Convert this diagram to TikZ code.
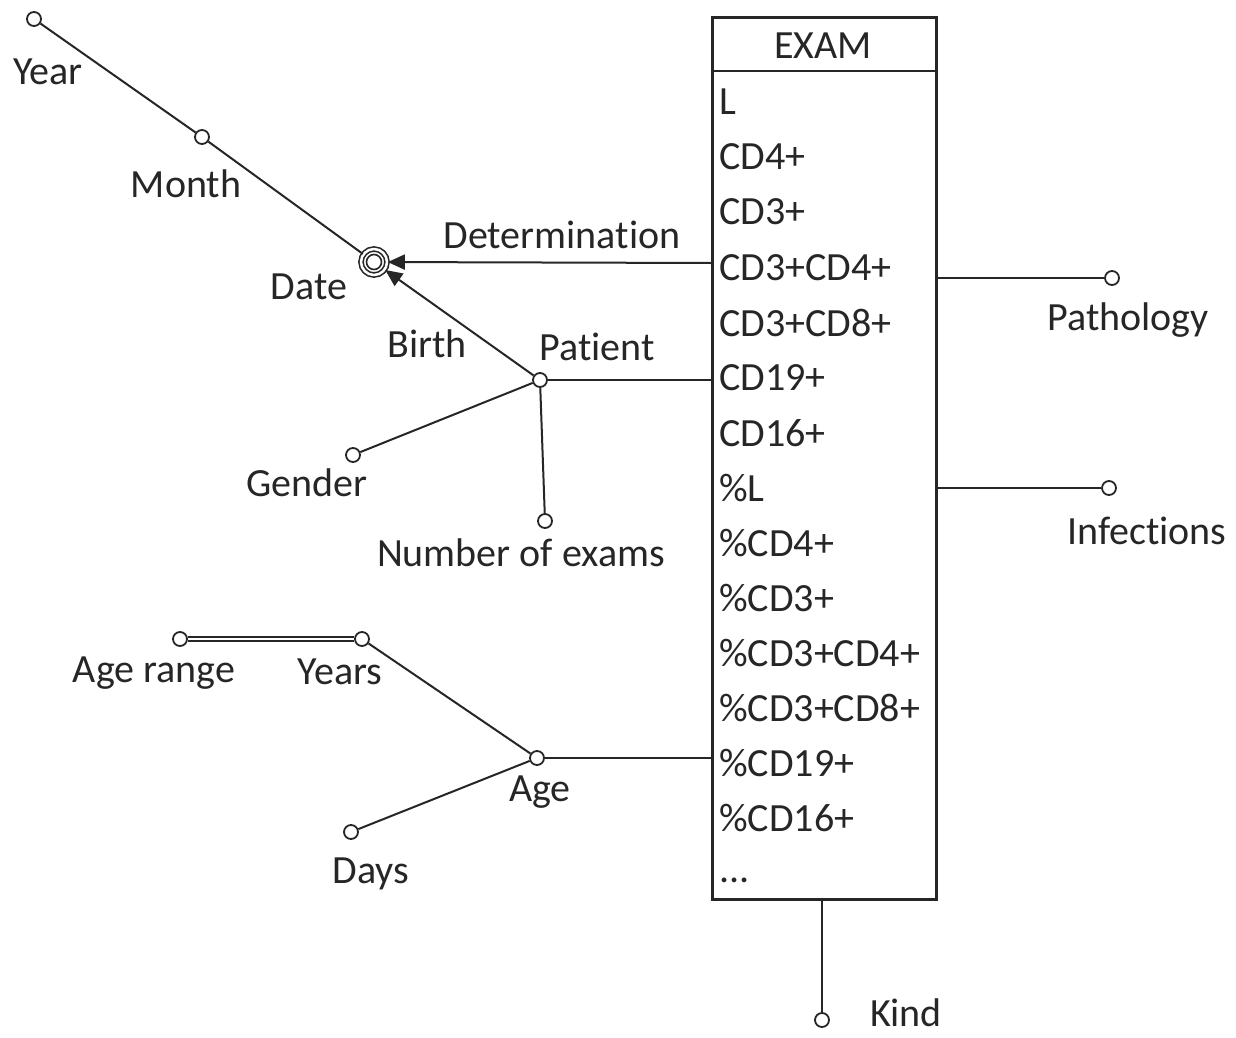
\documentclass[tikz,border=0pt]{standalone}
\usepackage{fontspec}
\setmainfont{Carlito}[Ligatures={NoCommon}]
\usetikzlibrary{arrows.meta}
\definecolor{ink}{HTML}{262626}
\begin{document}
\begin{tikzpicture}[x=1pt,y=-1pt,
  every node/.style={text=ink},
  dot/.style={circle,draw=ink,line width=1.8pt,fill=white,minimum size=14pt,inner sep=0pt},
  lbl/.style={font=\fontsize{40}{44}\selectfont,inner sep=0pt},
  row/.style={font=\fontsize{40}{44}\selectfont,inner sep=0pt,anchor=west},
  conn/.style={draw=ink,line width=2pt},
  arr/.style={conn,-{Triangle[length=17pt,width=15pt]}}]
\useasboundingbox (0,0) rectangle (1236,1038);
% EXAM box
\node[draw=ink,line width=2.6pt,rectangle,minimum width=224pt,minimum height=882pt,anchor=north west,inner sep=0pt] (exam) at (711,16) {};
\coordinate (hdr) at (0,71);
\draw[draw=ink,line width=2.4pt] (exam.west |- hdr) -- (exam.east |- hdr);
\node[lbl] (examt) at (823,46) {EXAM};
\node[row] (r1) at (719,102) {L};
\node[row] (r2) at (719,157) {CD4+};
\node[row] (r3) at (719,212) {CD3+};
\node[row] (r4) at (719,268) {CD3+CD4+};
\node[row] (r5) at (719,323) {CD3+CD8+};
\node[row] (r6) at (719,378) {CD19+};
\node[row] (r7) at (719,433) {CD16+};
\node[row] (r8) at (719,488) {\%L};
\node[row] (r9) at (719,543) {\%CD4+};
\node[row] (r10) at (719,598) {\%CD3+};
\node[row] (r11) at (719,653) {\%CD3+CD4+};
\node[row] (r12) at (719,708) {\%CD3+CD8+};
\node[row] (r13) at (719,763) {\%CD19+};
\node[row] (r14) at (719,818) {\%CD16+};
\node[row] (r15) at (719,880) {...};
% Right attributes
\node[dot] (path) at (1112,278) {};
\node[lbl] (pathl) at (1128,320) {Pathology};
\node[dot] (inf) at (1109,488) {};
\node[lbl] (infl) at (1147,531) {Infections};
\node[dot] (kind) at (822,1020) {};
\node[lbl,anchor=base,text depth=0pt] (kindl) at (906,1026) {Kind};
\draw[conn] (path) -- (path -| exam.east);
\draw[conn] (inf) -- (inf -| exam.east);
\draw[conn] (kind) -- (kind |- exam.south);
% Date hierarchy
\node[dot] (year) at (34,19) {};
\node[lbl] (yearl) at (48,72) {Year};
\node[dot] (month) at (202,137) {};
\node[lbl] (monthl) at (186,184) {Month};
\node[circle,draw=ink,line width=1.6pt,fill=white,minimum size=26pt,inner sep=0pt,double,double distance=2.5pt] (date) at (374,262) {};
\node[circle,draw=ink,line width=1.6pt,minimum size=15pt,inner sep=0pt] (datein) at (374,262) {};
\node[lbl] (datel) at (309,287) {Date};
\draw[conn] (year) -- (month);
\draw[conn] (month) -- (date);
\coordinate (detstart) at (711,263);
\draw[arr] (detstart) -- (date);
\node[lbl] (detl) at (562,235) {Determination};
% Patient
\node[dot] (pat) at (540,380) {};
\node[lbl] (patl) at (597,347) {Patient};
\draw[conn] (pat) -- (pat -| exam.west);
\draw[arr] (pat) -- (date);
\node[lbl] (birthl) at (427,344) {Birth};
\node[dot] (gender) at (353,455) {};
\node[lbl] (genderl) at (307,483) {Gender};
\draw[conn] (pat) -- (gender);
\node[dot] (nex) at (545,521) {};
\node[lbl] (nexl) at (521,553) {Number of exams};
\draw[conn] (pat) -- (nex);
% Age
\node[dot] (age) at (537,758) {};
\node[lbl] (agel) at (540,792) {Age};
\draw[conn] (age) -- (age -| exam.west);
\node[dot] (years) at (362,639) {};
\node[lbl] (yearsl) at (340,672) {Years};
\node[dot] (arange) at (180,639) {};
\node[lbl] (arangel) at (154,673) {Age range};
\node[dot] (days) at (351,832) {};
\node[lbl] (daysl) at (371,874) {Days};
\draw[conn] (age) -- (years);
\draw[conn] (age) -- (days);
\draw[draw=ink,line width=1.5pt,double,double distance=2.5pt] (arange) -- (years);
\end{tikzpicture}
\end{document}
